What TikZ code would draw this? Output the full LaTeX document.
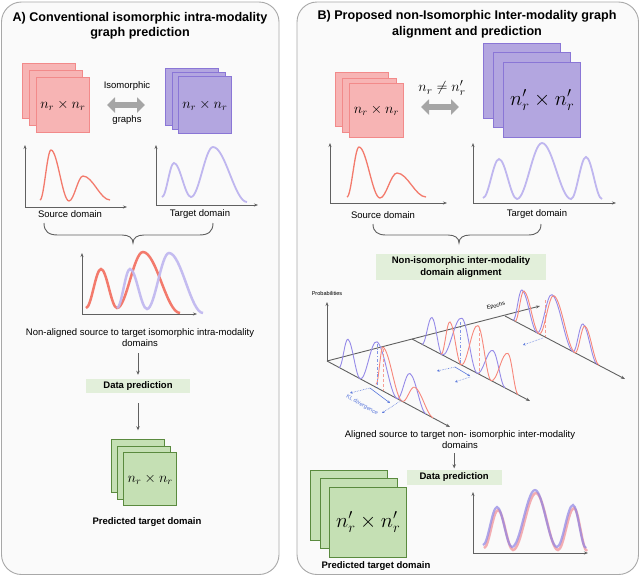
\documentclass[tikz,border=0pt]{standalone}
\usepackage{fontspec}
\setmainfont{Liberation Sans}
\usetikzlibrary{arrows.meta}
\definecolor{panelfill}{HTML}{FAFAFA}
\definecolor{panelline}{HTML}{A8A8A8}
\definecolor{pinkfill}{HTML}{F7B4B4}
\definecolor{pinkline}{HTML}{F28A8A}
\definecolor{purpfill}{HTML}{B3A6E0}
\definecolor{purpline}{HTML}{8A76D6}
\definecolor{greenfill}{HTML}{C5E0B4}
\definecolor{greenline}{HTML}{5A8A3E}
\definecolor{boxgreen}{HTML}{E2EFDA}
\definecolor{axisgray}{HTML}{606060}
\definecolor{arrgray}{HTML}{A5A5A5}
\definecolor{redc}{HTML}{F37A6C}
\definecolor{purc}{HTML}{BFB6EF}
\definecolor{purd}{HTML}{958AE8}
\definecolor{redd}{HTML}{F7877B}
\definecolor{klblue}{HTML}{5A78DC}
\definecolor{kldash}{HTML}{8094E6}
\definecolor{finpur}{HTML}{8E83E4}
\definecolor{finpink}{HTML}{F2A0A6}
\newcommand{\mywave}[4]{%
  \draw[#1] (#2,#3) foreach \xx/\yy [remember=\xx as \wpx (initially #2), remember=\yy as \wpy (initially #3)] in {#4} { .. controls ({\wpx+0.36*(\xx-\wpx)},\wpy) and ({\xx-0.36*(\xx-\wpx)},\yy) .. (\xx,\yy) };}
\begin{document}
\begin{tikzpicture}[x=1pt,y=-1pt,
  panel/.style={draw=panelline, fill=panelfill, line width=0.9pt, rounded corners=20pt},
  title/.style={font=\fontsize{12.6}{15.5}\selectfont\bfseries, align=center},
  lbl/.style={font=\fontsize{9.5}{11.5}\selectfont, align=center},
  lblb/.style={font=\fontsize{9.5}{11.5}\selectfont\bfseries, align=center},
  sz/.style 2 args={minimum width=#1, minimum height=#2},
  sqpink/.style={draw=pinkline, fill=pinkfill, line width=0.8pt, inner sep=0pt, anchor=north west},
  sqpurp/.style={draw=purpline, fill=purpfill, line width=0.8pt, inner sep=0pt, anchor=north west},
  sqgreen/.style={draw=greenline, fill=greenfill, line width=0.8pt, inner sep=0pt, anchor=north west},
  dpbox/.style={fill=boxgreen, font=\fontsize{9.5}{11.5}\selectfont\bfseries, inner sep=0pt, align=center},
  ax/.style={draw=axisgray, line width=0.9pt, {Stealth[length=4pt,width=3pt]}-{Stealth[length=4pt,width=3pt]}},
  ax3/.style={draw=axisgray, line width=0.9pt, -{Stealth[length=4pt,width=3pt]}},
  darr/.style={draw=axisgray, line width=0.9pt, -{Stealth[length=4pt,width=3.5pt]}},
  fatarr/.style={draw=arrgray, line width=6pt, {Triangle[length=8pt,width=15pt]}-{Triangle[length=8pt,width=15pt]}},
  brace/.style={draw=axisgray, line width=0.9pt},
  c3p/.style={draw=purd, line width=0.9pt},
  c3r/.style={draw=redd, line width=0.9pt},
  kl/.style={draw=klblue, line width=0.6pt, densely dotted, -{Stealth[length=2.5pt,width=2.5pt]}},
  bdash/.style={draw=kldash, line width=0.6pt, dash dot},
  rdash/.style={draw=redd, line width=0.5pt, densely dashed, opacity=0.8},
  tiny/.style={font=\fontsize{5.6}{6}\selectfont, inner sep=0pt}
]
\useasboundingbox (0,0) rectangle (640,576);
\fill[white] (0,0) rectangle (640,576);

% ---------- panels ----------
\draw[panel] (1.5,2) rectangle (279,574.5);
\draw[panel] (297,2) rectangle (638.5,574.5);

% ---------- panel A ----------
\node[title] (tA) at (140,26) {A) Conventional isomorphic intra-modality\\graph prediction};

\node[sqpink, sz={53pt}{55pt}] (pA1) at (22,63) {};
\node[sqpink, sz={53pt}{55pt}] (pA2) at (29,70) {};
\node[sqpink, sz={53pt}{55pt}, font=\fontsize{14}{14}\selectfont] (pA3) at (36,77) {$n_r \times n_r$};

\node[sqpurp, sz={53pt}{57pt}] (qA1) at (165,68) {};
\node[sqpurp, sz={53pt}{57pt}] (qA2) at (171.5,72) {};
\node[sqpurp, sz={53pt}{57pt}, font=\fontsize{14}{14}\selectfont] (qA3) at (178,76) {$n_r \times n_r$};

\node[lbl] (isoT) at (127,86) {Isomorphic};
\node[lbl] (isoB) at (127,120) {graphs};
\coordinate (faL) at (107,105);
\coordinate (faR) at (145,105);
\draw[fatarr] (faL) -- (faR);

% source / target plots
\draw[ax] (25,145) |- (127,207);
\mywave{draw=redc, line width=1.3pt}{40}{200}{51/150, 69/201, 83/176, 110/200}
\node[lbl] (srcL) at (70,214) {Source domain};

\draw[ax] (156,145) |- (258,205);
\mywave{draw=purc, line width=1.8pt}{162}{197}{174/163, 191/197, 213/147, 247/202}
\node[lbl] (tgtL) at (200,214) {Target domain};

\draw[brace] (44,223) .. controls (44,232) and (49,235) .. (58,235) -- (122,235)
  .. controls (129,235) and (133,238) .. (133,243)
  .. controls (133,238) and (137,235) .. (144,235) -- (199,235)
  .. controls (208,235) and (213,232) .. (213,223);

% combined plot
\draw[ax] (82,253) |- (197,314);
\mywave{draw=redc, line width=2.5pt}{86}{308}{101/269, 117/308, 143/252, 180/313}
\mywave{draw=purc, line width=2.5pt, opacity=0.9}{117}{308}{130/269, 147/309, 169/253, 203/313}

\node[lbl] (nal) at (140,337.5) {Non-aligned source to target isomorphic intra-modality\\domains};
\node[dpbox, sz={104pt}{14pt}] (dpL) at (138,386) {Data prediction};
\draw[darr, shorten <=3pt, shorten >=4pt] (nal.south -| dpL.north) -- (dpL.north);

\node[sqgreen, sz={53pt}{53pt}] (gA1) at (110.7,439.3) {};
\node[sqgreen, sz={53pt}{53pt}] (gA2) at (117,446) {};
\node[sqgreen, sz={53pt}{53pt}, font=\fontsize{14}{14}\selectfont] (gA3) at (123.3,452) {$n_r \times n_r$};
\draw[darr, shorten <=10pt, shorten >=9pt] (dpL.south) -- (dpL.south |- gA1.north);
\node[lblb] (predL) at (147,522) {Predicted target domain};

% ---------- panel B ----------
\node[title] (tB) at (467,24.5) {B) Proposed non-Isomorphic Inter-modality graph\\alignment and prediction};

\node[sqpink, sz={53.4pt}{54pt}] (pB1) at (335,71.7) {};
\node[sqpink, sz={53.4pt}{54pt}] (pB2) at (342.3,78.3) {};
\node[sqpink, sz={53.4pt}{54pt}, font=\fontsize{14}{14}\selectfont] (pB3) at (349.3,83.3) {$n_r \times n_r$};

\node[sqpurp, sz={77pt}{75.6pt}] (qB1) at (483.3,42.7) {};
\node[sqpurp, sz={77pt}{75.6pt}] (qB2) at (493.3,51.7) {};
\node[sqpurp, sz={77pt}{75.6pt}, font=\fontsize{20}{20}\selectfont] (qB3) at (503.3,61.7) {$n_r' \times n_r'$};

\node[font=\fontsize{15}{15}\selectfont, inner sep=0pt] (neq) at (442,88) {$n_r \neq n_r'$};
\coordinate (fbL) at (421,107);
\coordinate (fbR) at (459,107);
\draw[fatarr] (fbL) -- (fbR);

\draw[ax] (330,143) |- (447,203);
\mywave{draw=redc, line width=1.3pt}{347}{197}{359/147, 380/198, 397/173, 426/197}
\node[lbl] (srcR) at (383,215) {Source domain};

\draw[ax] (473,143) |- (616,203);
\mywave{draw=purc, line width=1.8pt}{483}{198}{499/159, 517/199, 542/143, 571/199, 586/157, 602/199}
\node[lbl] (tgtR) at (537,214) {Target domain};

\draw[brace] (373,224) .. controls (373,232) and (378,235) .. (386,235) -- (448,235)
  .. controls (455,235) and (459,238) .. (459,243)
  .. controls (459,238) and (463,235) .. (470,235) -- (528,235)
  .. controls (536,235) and (541,232) .. (541,224);

\node[dpbox, sz={170pt}{26pt}] (alg) at (461,267) {Non-isomorphic inter-modality\\domain alignment};

% ---------- 3D chart ----------
\coordinate (O) at (327,361);
\coordinate (B2) at (412,339);
\coordinate (B3) at (505,316);
\coordinate (Pt) at (327,302);
\coordinate (Et) at (540,306);
\coordinate (E1) at (450,427);
\coordinate (E2) at (530,401);
\coordinate (E3) at (625,379);
\draw[ax3] (O) -- (Pt);
\draw[ax3] (O) -- (Et);
\draw[ax3] (O) -- (E1);
\draw[ax3] (B2) -- (E2);
\draw[ax3] (B3) -- (E3);
\node[tiny] (prob) at (327,293) {Probabilities};
\node[tiny, rotate=14.5] (epo) at (496,306) {Epochs};

\begin{scope}[shift={(327,361)}, yslant=-0.537]
  \mywave{c3p}{12}{0}{21/-33, 33/0, 50/-46, 70/0, 83/-32, 99/0}
  \mywave{c3r}{49}{-3}{56/-44, 75/0, 88/-21, 106/0}
  \draw[bdash] (50,-44) -- (50,0);
  \draw[rdash] (56,-42) -- (56,0);
\end{scope}
\begin{scope}[shift={(412,339)}, yslant=-0.525]
  \mywave{c3p}{10}{0}{20/-32, 30/0, 50/-47, 65/0, 81/-31, 93/0}
  \mywave{c3r}{29}{0}{38/-37, 49/0, 66/-48, 79/0, 96/-36, 106/0}
  \draw[bdash] (48,-42) -- (48,0);
  \draw[rdash] (67,-46) -- (67,0);
\end{scope}
\begin{scope}[shift={(505,316)}, yslant=-0.525]
  \mywave{c3p}{8}{0}{17/-35, 32/0, 47/-46, 68/0, 78/-33, 92/0}
  \mywave{c3r}{10}{0}{19/-35, 34/0, 49/-46, 70/0, 80/-32, 94/0}
  \draw[rdash] (40,-37) -- (40,0);
\end{scope}

% KL divergence marks
\coordinate (k1a) at (370,388); \coordinate (k1b) at (350,393);
\coordinate (k1c) at (390,403);
\coordinate (k1d) at (402,400); \coordinate (k1e) at (382,413);
\draw[kl] (k1a) -- (k1b);
\draw[kl, solid] (k1a) -- (k1c);
\draw[kl] (k1d) -- (k1e);
\node[tiny, text=klblue, rotate=-30] (kltxt) at (362,405) {KL divergence};
\coordinate (k2a) at (455,367); \coordinate (k2b) at (437,371);
\coordinate (k2c) at (470,376);
\coordinate (k2d) at (470,377); \coordinate (k2e) at (455,382);
\draw[kl] (k2a) -- (k2b);
\draw[kl, solid] (k2a) -- (k2c);
\draw[kl] (k2d) -- (k2e);
\coordinate (k3a) at (543,338); \coordinate (k3b) at (523,345);
\draw[kl] (k3a) -- (k3b);

\node[lbl] (aligned) at (460,439.5) {Aligned source to target non- isomorphic inter-modality\\domains};
\node[dpbox, sz={95pt}{15pt}] (dpR) at (454.2,477.5) {Data prediction};
\draw[darr, shorten <=1pt, shorten >=1.5pt] (aligned.south -| dpR.north) -- (dpR.north);

\node[sqgreen, sz={77pt}{70pt}] (gB1) at (310,470) {};
\node[sqgreen, sz={77pt}{70pt}] (gB2) at (319.7,478.3) {};
\node[sqgreen, sz={77pt}{70pt}, font=\fontsize{20}{20}\selectfont] (gB3) at (329.3,486.7) {$n_r' \times n_r'$};
\node[lblb] (predR) at (376,566) {Predicted target domain};

\draw[ax] (473,492) |- (588,553);
\mywave{draw=finpink, line width=2.5pt, opacity=0.85}{484}{548}{498/510, 513/550, 536/493, 558/550, 574/508, 587/551}
\mywave{draw=finpur, line width=2.2pt, opacity=0.7}{483}{545}{497/507, 512/547, 535/490, 557/547, 573/505, 586/548}
\end{tikzpicture}
\end{document}
